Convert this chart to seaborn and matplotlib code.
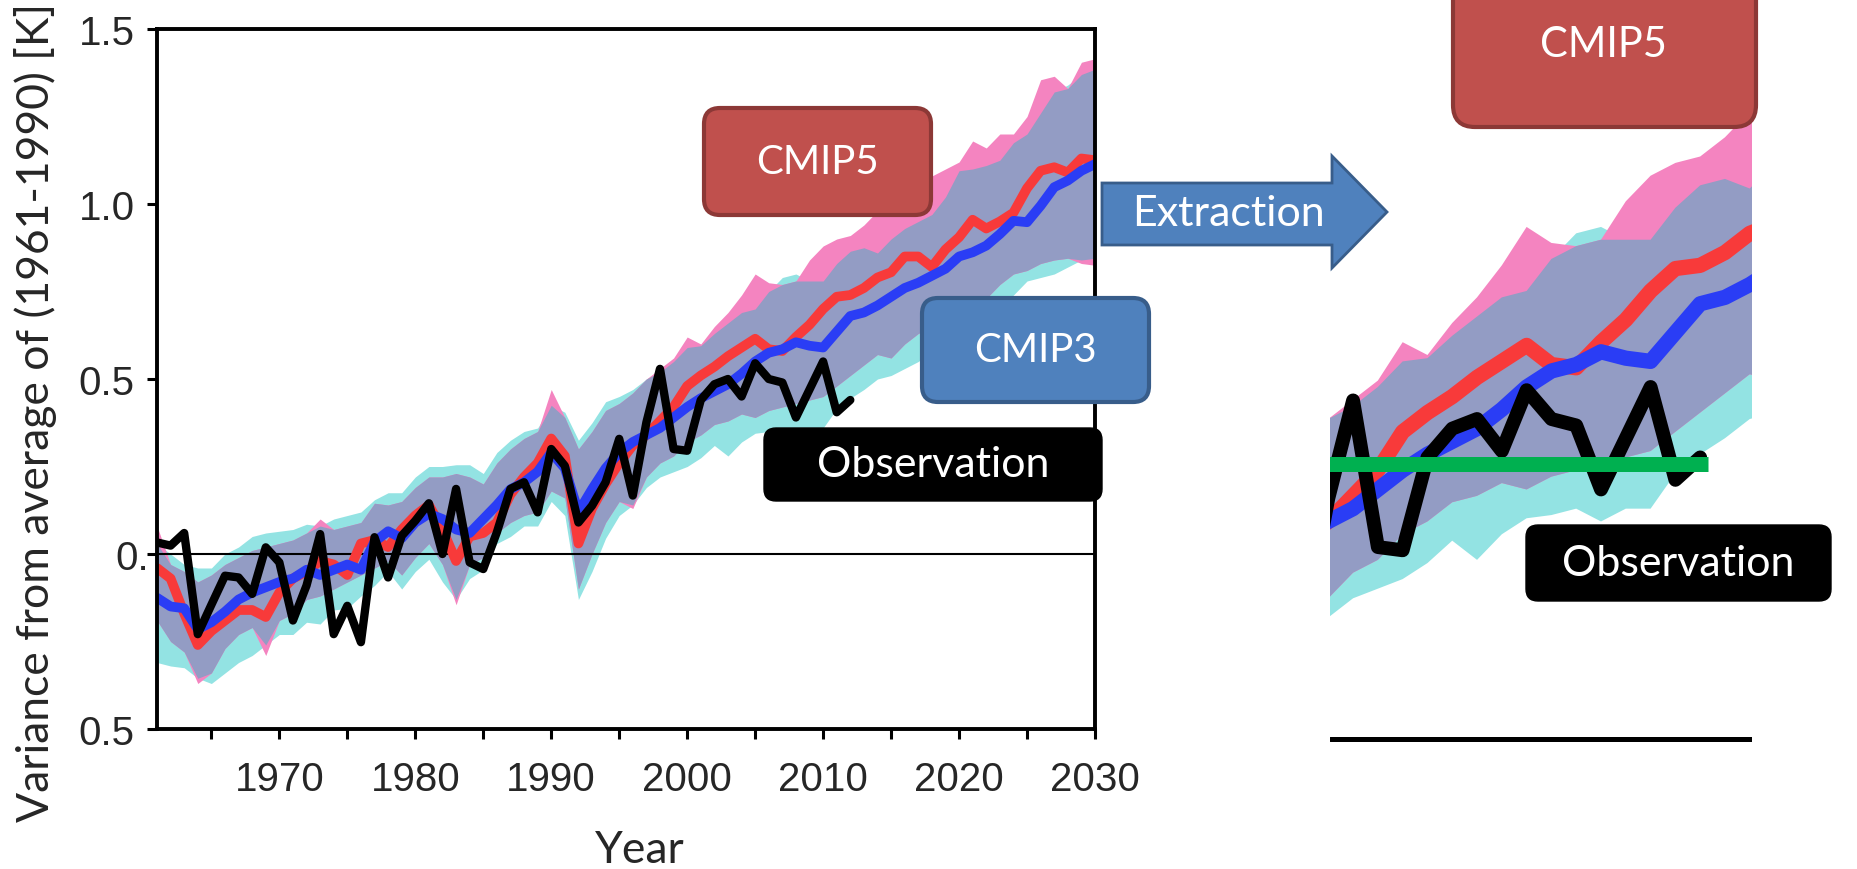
import numpy as np
import matplotlib
matplotlib.use("Agg")
import matplotlib.pyplot as plt
import matplotlib.transforms as mtransforms
from matplotlib.patches import FancyBboxPatch, Polygon
import seaborn as sns

# ---------------------------------------------------------------
# DATA
# ---------------------------------------------------------------
years = list(range(1961, 2031))

cmip5_mean = [-0.04, -0.07, -0.17, -0.26, -0.22, -0.19, -0.16, -0.16, -0.18, -0.11,
              -0.07, -0.05, -0.02, -0.03, -0.06, 0.03, 0.04, 0.02, 0.07, 0.11,
              0.14, 0.07, -0.02, 0.05, 0.06, 0.09, 0.17, 0.22, 0.26, 0.33,
              0.28, 0.03, 0.13, 0.20, 0.26, 0.31, 0.34, 0.38, 0.42, 0.48,
              0.51, 0.535, 0.565, 0.59, 0.615, 0.585, 0.58, 0.62, 0.655, 0.70,
              0.735, 0.74, 0.76, 0.79, 0.805, 0.85, 0.85, 0.82, 0.87, 0.905,
              0.955, 0.93, 0.95, 0.975, 1.045, 1.095, 1.105, 1.09, 1.13, 1.125]

cmip3_mean = [-0.125, -0.15, -0.155, -0.215, -0.195, -0.165, -0.13, -0.11, -0.095, -0.08,
              -0.07, -0.045, -0.06, -0.045, -0.03, -0.045, 0.035, 0.065, 0.045, 0.09,
              0.115, 0.10, 0.07, 0.06, 0.10, 0.14, 0.185, 0.205, 0.235, 0.29,
              0.245, 0.12, 0.185, 0.245, 0.29, 0.32, 0.34, 0.36, 0.39, 0.42,
              0.445, 0.465, 0.485, 0.515, 0.55, 0.575, 0.585, 0.605, 0.595, 0.59,
              0.635, 0.68, 0.69, 0.71, 0.735, 0.76, 0.775, 0.795, 0.815, 0.85,
              0.862, 0.881, 0.914, 0.952, 0.948, 0.995, 1.048, 1.067, 1.095, 1.114]

cmip5_hi = [0.08, -0.03, -0.05, -0.08, -0.06, -0.03, -0.01, 0.01, 0.02, 0.03,
            0.04, 0.06, 0.10, 0.07, 0.08, 0.09, 0.145, 0.14, 0.15, 0.19,
            0.22, 0.22, 0.23, 0.22, 0.20, 0.26, 0.30, 0.33, 0.35, 0.47,
            0.39, 0.30, 0.35, 0.41, 0.43, 0.46, 0.50, 0.53, 0.56, 0.62,
            0.60, 0.65, 0.69, 0.74, 0.80, 0.775, 0.77, 0.78, 0.84, 0.88,
            0.90, 0.91, 0.94, 0.98, 1.01, 1.04, 1.06, 1.08, 1.10, 1.12,
            1.18, 1.16, 1.20, 1.20, 1.25, 1.355, 1.365, 1.33, 1.405, 1.415]

cmip5_lo = [-0.19, -0.25, -0.28, -0.37, -0.34, -0.27, -0.23, -0.21, -0.29, -0.19,
            -0.17, -0.13, -0.12, -0.10, -0.08, -0.06, -0.04, -0.02, -0.06, -0.01,
            0.03, -0.03, -0.145, -0.03, -0.01, 0.06, 0.09, 0.11, 0.12, 0.18,
            0.16, -0.10, 0.00, 0.09, 0.15, 0.13, 0.22, 0.26, 0.28, 0.32,
            0.34, 0.37, 0.38, 0.40, 0.39, 0.41, 0.42, 0.43, 0.44, 0.45,
            0.48, 0.51, 0.54, 0.57, 0.56, 0.60, 0.63, 0.65, 0.68, 0.70,
            0.71, 0.73, 0.77, 0.80, 0.81, 0.83, 0.84, 0.845, 0.83, 0.825]

cmip3_hi = [0.03, 0.00, -0.03, -0.04, -0.04, 0.00, 0.02, 0.05, 0.06, 0.065,
            0.07, 0.085, 0.08, 0.10, 0.11, 0.12, 0.155, 0.175, 0.175, 0.22,
            0.25, 0.25, 0.255, 0.255, 0.23, 0.29, 0.325, 0.35, 0.36, 0.425,
            0.405, 0.325, 0.375, 0.435, 0.45, 0.47, 0.50, 0.52, 0.55, 0.59,
            0.595, 0.63, 0.66, 0.69, 0.70, 0.75, 0.79, 0.80, 0.78, 0.78,
            0.83, 0.865, 0.875, 0.86, 0.90, 0.93, 0.95, 0.97, 1.02, 1.095,
            1.10, 1.11, 1.125, 1.175, 1.20, 1.26, 1.32, 1.34, 1.37, 1.385]

cmip3_lo = [-0.31, -0.32, -0.325, -0.355, -0.37, -0.34, -0.31, -0.29, -0.26, -0.23,
            -0.23, -0.195, -0.20, -0.16, -0.155, -0.12, -0.09, -0.05, -0.10, -0.05,
            -0.015, -0.08, -0.13, -0.07, -0.045, 0.03, 0.05, 0.08, 0.08, 0.15,
            0.11, -0.13, -0.05, 0.045, 0.11, 0.14, 0.19, 0.22, 0.235, 0.25,
            0.275, 0.31, 0.28, 0.32, 0.345, 0.35, 0.36, 0.34, 0.36, 0.36,
            0.415, 0.445, 0.47, 0.50, 0.51, 0.53, 0.55, 0.58, 0.60, 0.62,
            0.64, 0.66, 0.70, 0.74, 0.78, 0.79, 0.80, 0.82, 0.84, 0.845]

obs_years = list(range(1961, 2013))
observation = [0.033, 0.024, 0.06, -0.229, -0.145, -0.062, -0.067, -0.114, 0.019, -0.024,
               -0.19, -0.09, 0.057, -0.229, -0.148, -0.252, 0.048, -0.067, 0.052, 0.095,
               0.145, 0.0, 0.186, -0.024, -0.043, 0.062, 0.186, 0.205, 0.119, 0.30,
               0.252, 0.09, 0.138, 0.205, 0.329, 0.167, 0.376, 0.529, 0.30, 0.295,
               0.44, 0.485, 0.50, 0.45, 0.545, 0.50, 0.49, 0.39, 0.47, 0.55,
               0.405, 0.44]

# flat level marked in the extracted view
hiatus_level = 0.43
hiatus_span = [1997.0, 2012.3]

ytick_vals = [-0.5, 0.0, 0.5, 1.0, 1.5]
ytick_labels = ["0.5", "0.", "0.5", "1.0", "1.5"]
xtick_vals = list(range(1965, 2031, 5))
xtick_labels = [str(y) if y % 10 == 0 else "" for y in xtick_vals]

# ---------------------------------------------------------------
# STYLE
# ---------------------------------------------------------------
CYAN = "#93E3E3"
PINK = "#F484C0"
GREY = "#939CC4"
RED = "#F83A3A"
BLUE = "#2A3DF5"
GREEN = "#00B050"
BOX_RED, BOX_RED_EDGE = "#C0504D", "#8C3836"
BOX_BLUE, BOX_BLUE_EDGE = "#4F81BD", "#385D8A"

sns.set_style("ticks")
plt.rcParams['font.family'] = ['Liberation Sans Narrow', 'Liberation Sans', 'DejaVu Sans']
LABEL_FONT = ['Lato', 'DejaVu Sans']

W, H = 1858, 870
fig = plt.figure(figsize=(W / 100, H / 100), dpi=100)


def draw_models(ax, lw_mean, lw_obs, lw_zero):
    ax.fill_between(years, cmip3_lo, cmip3_hi, color=CYAN, lw=0)
    ax.fill_between(years, cmip5_lo, cmip5_hi, color=PINK, lw=0)
    lo = np.maximum(cmip5_lo, cmip3_lo)
    hi = np.minimum(cmip5_hi, cmip3_hi)
    ax.fill_between(years, lo, hi, where=hi >= lo, interpolate=True, color=GREY, lw=0)
    ax.axhline(0, color="black", lw=lw_zero)
    sns.lineplot(x=years, y=cmip5_mean, ax=ax, color=RED, lw=lw_mean)
    sns.lineplot(x=years, y=cmip3_mean, ax=ax, color=BLUE, lw=lw_mean)
    sns.lineplot(x=obs_years, y=observation, ax=ax, color="black", lw=lw_obs)


# ---------------------------------------------------------------
# LEFT: full time series
# ---------------------------------------------------------------
ax = fig.add_axes([157 / W, 140 / H, 938 / W, 700 / H])
draw_models(ax, lw_mean=7, lw_obs=6, lw_zero=1.5)
ax.set_xlim(1961, 2030)
ax.set_ylim(-0.5, 1.5)
ax.set_xticks(xtick_vals)
ax.set_xticklabels(xtick_labels)
ax.set_yticks(ytick_vals)
ax.set_yticklabels(ytick_labels)
ax.tick_params(axis="both", direction="out", length=7, width=2.2, labelsize=29, color="black")
ax.tick_params(axis="x", pad=15)
ax.tick_params(axis="y", pad=9)
ax.set_xlabel("")
ax.set_ylabel("")
for sp in ax.spines.values():
    sp.set_linewidth(2.8)
    sp.set_color("black")
# the "0." label sits further right in the original
zero_lab = ax.get_yticklabels()[1]
zero_lab.set_transform(zero_lab.get_transform() +
                       mtransforms.ScaledTranslation(0.14, 0, fig.dpi_scale_trans))

fig.text(36 / W, 1 - 412 / H, "Variance from average of (1961-1990) [K]",
         rotation=90, ha="center", va="center", fontsize=32, family=LABEL_FONT)
fig.text(640 / W, 1 - 851 / H, "Year", ha="center", va="center",
         fontsize=32, family=LABEL_FONT)

# ---------------------------------------------------------------
# RIGHT: extracted close-up
# ---------------------------------------------------------------
ax2 = fig.add_axes([1330 / W, 110 / H, 422 / W, 760 / H])
draw_models(ax2, lw_mean=11, lw_obs=10, lw_zero=3.6)
ax2.hlines(hiatus_level, hiatus_span[0], hiatus_span[1], color=GREEN, lw=10.8, zorder=5)
ax2.set_xlim(1997.07, 2014.09)
ax2.set_ylim(-0.031, 1.156)
ax2.axis("off")

# ---------------------------------------------------------------
# ANNOTATION LAYER (pixel coordinates)
# ---------------------------------------------------------------
ov = fig.add_axes([0, 0, 1, 1], zorder=10)
ov.set_xlim(0, W)
ov.set_ylim(H, 0)
ov.axis("off")


def label_box(x0, y0, x1, y1, text, face, edge, size, r=16, lw=3):
    ov.add_patch(FancyBboxPatch((x0, y0), x1 - x0, y1 - y0,
                                boxstyle=f"round,pad=0,rounding_size={r}",
                                facecolor=face, edgecolor=edge, lw=lw))
    ov.text((x0 + x1) / 2, (y0 + y1) / 2, text, ha="center", va="center",
            color="white", fontsize=size, family=LABEL_FONT)


label_box(704, 109, 931, 216, "CMIP5", BOX_RED, BOX_RED_EDGE, 29)
label_box(922, 299, 1149, 403, "CMIP3", BOX_BLUE, BOX_BLUE_EDGE, 29)
label_box(764, 429, 1102, 502, "Observation", "black", "black", 31, r=12, lw=1)
label_box(1453, -30, 1756, 128, "", BOX_RED, BOX_RED_EDGE, 30, r=22)
ov.text(1603, 45, "CMIP5", ha="center", va="center", color="white",
        fontsize=30, family=LABEL_FONT)
label_box(1526, 526, 1831, 602, "Observation", "black", "black", 31, r=12, lw=1)

arrow = Polygon([(1102, 184), (1332, 184), (1332, 157), (1387, 213),
                 (1332, 269), (1332, 246), (1102, 246)], closed=True,
                facecolor=BOX_BLUE, edgecolor=BOX_BLUE_EDGE, lw=2)
ov.add_patch(arrow)
ov.text(1229, 214, "Extraction", ha="center", va="center", color="white",
        fontsize=31, family=LABEL_FONT)

fig.savefig("out.png", dpi=100)
